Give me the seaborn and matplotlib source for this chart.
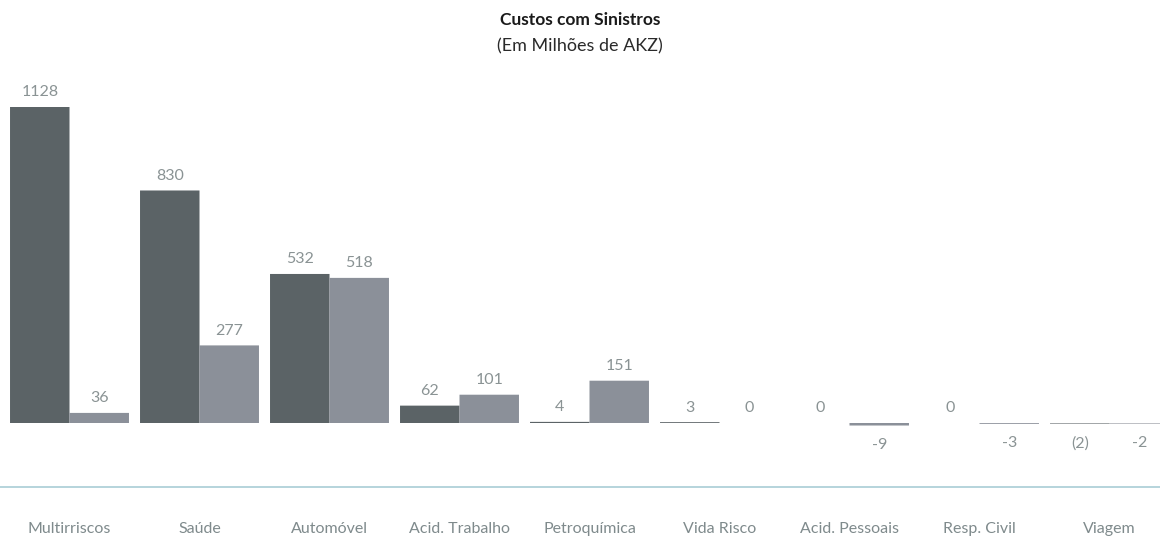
import pandas as pd
import matplotlib
matplotlib.use("Agg")
import matplotlib.pyplot as plt
import seaborn as sns

# Chart data
categories = ["Multirriscos", "Saúde", "Automóvel", "Acid. Trabalho", "Petroquímica",
              "Vida Risco", "Acid. Pessoais", "Resp. Civil", "Viagem"]
series_names = ["Série A", "Série B"]
values_a = [1128, 830, 532, 62, 4, 3, 0, 0, -2]
values_b = [36, 277, 518, 101, 151, 0, -9, -3, -2]
labels_a = ["1128", "830", "532", "62", "4", "3", "0", "0", "(2)"]
labels_b = ["36", "277", "518", "101", "151", "0", "-9", "-3", "-2"]

df = pd.DataFrame({
    "Categoria": categories * 2,
    "Série": [series_names[0]] * len(categories) + [series_names[1]] * len(categories),
    "Valor": values_a + values_b,
})

sns.set_theme(style="white")
plt.rcParams["font.family"] = ["Lato", "DejaVu Sans"]

fig = plt.figure(figsize=(11.6, 5.4), dpi=100)
ax = fig.add_axes([0, 53 / 540, 1, (487 - 60) / 540])

sns.barplot(data=df, x="Categoria", y="Valor", hue="Série",
            palette=["#5b6366", "#8b9099"], width=0.915,
            saturation=1, linewidth=0, legend=False, ax=ax)

# no pixel snapping, so the tiny bars stay faint like in the original
for p in ax.patches:
    p.set_snap(False)

# Value labels
label_color = "#8a9394"
for container, labels in zip(ax.containers, [labels_a, labels_b]):
    for bar, text in zip(container, labels):
        h = bar.get_height()
        x = bar.get_x() + bar.get_width() / 2
        if h >= 0:
            ax.annotate(text, (x, h), xytext=(0, 5.5), textcoords="offset points",
                        ha="center", va="bottom", fontsize=11.5, color=label_color)
        else:
            ax.annotate(text, (x, h), xytext=(0, -9), textcoords="offset points",
                        ha="center", va="top", fontsize=11.5, color=label_color)

ax.set_xlim(-69.5 / 130, (1160 - 69.5) / 130)
k = 316 / 1128
ax.set_ylim(-(487 - 423) / k, (423 - 60) / k)

for side in ["top", "left", "right"]:
    ax.spines[side].set_visible(False)
ax.spines["bottom"].set_color("#a9cdd6")
ax.spines["bottom"].set_linewidth(1.2)
ax.set_yticks([])
ax.set_xlabel("")
ax.set_ylabel("")
ax.tick_params(axis="x", length=0, pad=25, labelsize=11.5, labelcolor="#7f8a8c")

fig.text(0.5, 1 - 20 / 540, "Custos com Sinistros", ha="center", va="center",
         fontsize=12.5, fontweight="bold", color="#1a1a1a")
fig.text(0.5, 1 - 46 / 540, "(Em Milhões de AKZ)", ha="center", va="center",
         fontsize=13, color="#2a2a2a")

fig.savefig("out.png", dpi=100)
